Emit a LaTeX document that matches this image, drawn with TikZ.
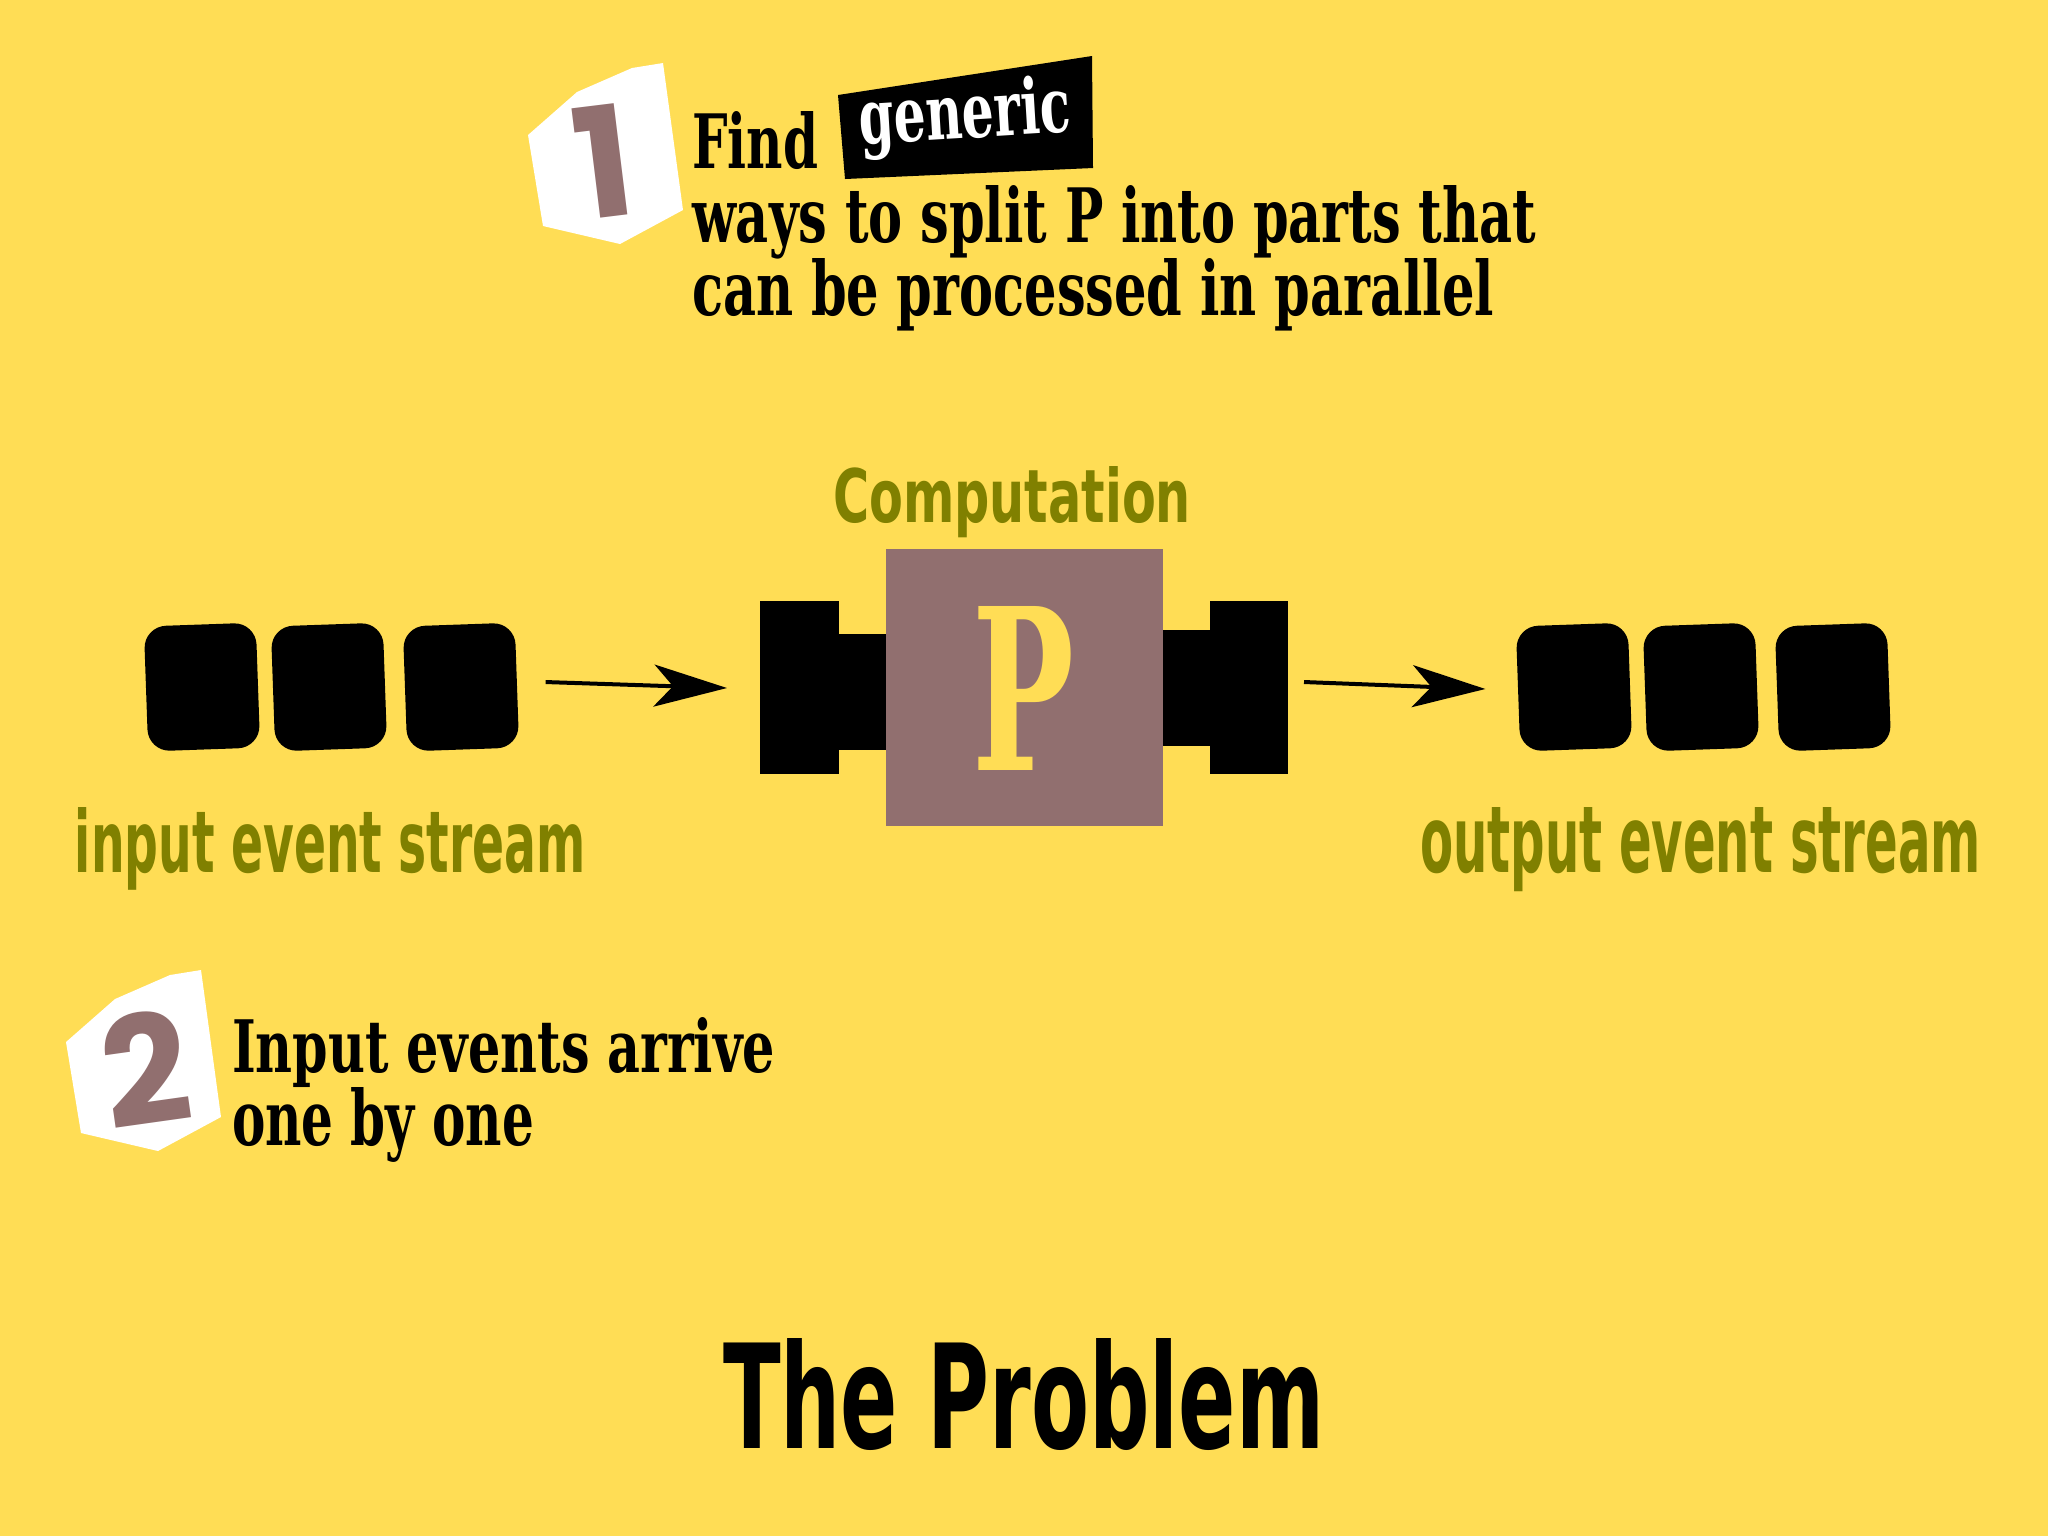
\documentclass[tikz,border=0pt]{standalone}
\usepackage{fontspec}
\usepackage{graphicx}
\setmainfont{DejaVu Serif}
\newfontfamily\dispfont{DejaVu Sans}
\newfontfamily\numfont{Poppins}
\usetikzlibrary{arrows.meta,calc}
\definecolor{bgyellow}{HTML}{FFDD55}
\definecolor{olivetxt}{HTML}{808000}
\definecolor{mauve}{HTML}{916F6F}
\newcommand{\fitw}[3]{\resizebox{#1}{#2}{#3}}
\tikzset{
  txt/.style={inner sep=0pt, outer sep=0pt, anchor=base west},
  lbl/.style={txt, text=olivetxt},
  evbox/.style={fill=black, rounded corners=2.2mm, minimum width=11.2mm, minimum height=12.5mm, inner sep=0pt, rotate=2},
  blk/.style={fill=black, inner sep=0pt, outer sep=0pt},
  arr/.style={line width=0.4mm, -{Stealth[length=7.3mm, width=4.2mm, inset=1.9mm]}},
  badge/.style={fill=white},
  numtxt/.style={inner sep=0pt, text=mauve}
}
\begin{document}
\begin{tikzpicture}[x=0.1mm, y=-0.1mm]
\fill[bgyellow] (0,0) rectangle (2048,1536);
\useasboundingbox (0,0) rectangle (2048,1536);

% badge 1
\fill[badge] (528,135) -- (577,92) -- (632,68) -- (663,63) -- (683,210) -- (620,244) -- (543,226) -- cycle;
\node[numtxt, rotate=7] (n1) at (603,161) {\resizebox{!}{11.2mm}{\numfont\bfseries 1}};

% step 1 text
\fill[black] (838,95) -- (1092,56) -- (1093,168) -- (845,179) -- cycle;
\node[txt] (find) at (692,168) {\fitw{12.6mm}{5.7mm}{\bfseries Find}};
\node[inner sep=0pt, anchor=base, rotate=3.5, text=white] (generic) at (966,138) {\fitw{21.2mm}{5.8mm}{\bfseries generic}};
\node[txt] (l2) at (692,242) {\fitw{84.4mm}{5.7mm}{\bfseries ways to split P into parts that}};
\node[txt] (l3) at (692,315) {\fitw{80.2mm}{5.7mm}{\bfseries can be processed in parallel}};

% computation
\node[lbl] (comp) at (833,522) {\fitw{35.8mm}{5.6mm}{\dispfont\bfseries Computation}};
\node[blk, minimum width=7.9mm, minimum height=17.3mm] (clb) at (799.5,687.5) {};
\node[blk, minimum width=4.7mm, minimum height=11.6mm] (cln) at (862.5,692) {};
\node[blk, minimum width=4.7mm, minimum height=11.6mm] (crn) at (1186.5,688) {};
\node[blk, minimum width=7.8mm, minimum height=17.3mm] (crb) at (1249,687.5) {};
\node[fill=mauve, inner sep=0pt, minimum width=27.7mm, minimum height=27.7mm] (pbox) at (1024.5,687.5) {};
\node[inner sep=0pt, text=bgyellow] (pl) at (1023,688) {\fitw{10.2mm}{16.4mm}{\bfseries P}};

% input events
\node[evbox] (i1) at (202,687) {};
\node[evbox] (i2) at (329,687) {};
\node[evbox] (i3) at (461,687) {};
\node[lbl] (inlbl) at (75,872) {\fitw{51.1mm}{6.5mm}{\dispfont\bfseries input event stream}};

% output events
\node[evbox] (o1) at (1574,687) {};
\node[evbox] (o2) at (1701,687) {};
\node[evbox] (o3) at (1833,687) {};
\node[lbl] (outlbl) at (1420,872) {\fitw{56.1mm}{6.5mm}{\dispfont\bfseries output event stream}};

% arrows
\draw[arr] ($(i3.east)+(28,-3)$) -- ($(clb.west)+(-33,0.5)$);
\draw[arr] ($(crb.east)+(16,-5.5)$) -- ($(o1.west)+(-32,0)$);

% badge 2
\fill[badge] (66,1042) -- (115,999) -- (170,975) -- (201,970) -- (221,1117) -- (158,1151) -- (81,1133) -- cycle;
\node[numtxt, rotate=8] (n2) at (145,1068) {\resizebox{!}{11.3mm}{\numfont\bfseries 2}};
\node[txt] (l4) at (232,1072) {\fitw{54.3mm}{5.5mm}{\bfseries Input events arrive}};
\node[txt] (l5) at (232,1145) {\fitw{30.2mm}{5.8mm}{\bfseries one by one}};

% title
\node[txt] (title) at (723,1448) {\fitw{60.1mm}{11mm}{\dispfont\bfseries The Problem}};
\end{tikzpicture}
\end{document}
